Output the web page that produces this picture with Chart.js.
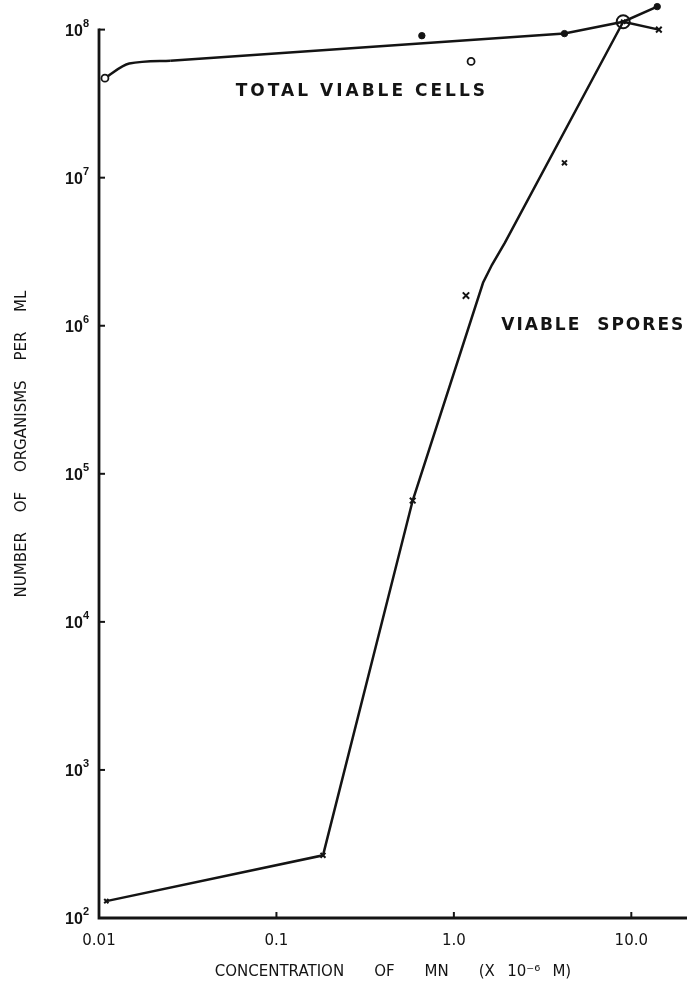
<!DOCTYPE html>
<html>
<head>
<meta charset="utf-8">
<script src="https://cdn.jsdelivr.net/npm/chart.js@4.4.1/dist/chart.umd.min.js"></script>
<style>
  html, body { margin: 0; padding: 0; background: #fff; }
  #wrap { width: 687px; height: 990px; position: relative; }
</style>
</head>
<body>
<div id="wrap"><canvas id="c" width="687" height="990"></canvas></div>
<script>
// Axis ticks
const xTicks = [0.01, 0.1, 1, 10];
const xTickLabels = ['0.01', '0.1', '1.0', '10.0'];
const yTicks = [1e2, 1e3, 1e4, 1e5, 1e6, 1e7, 1e8];
const yTickBase = '10';
const yTickExp = ['2', '3', '4', '5', '6', '7', '8'];

// Total viable cells (organisms per ml) vs Mn concentration (x 10^-6 M)
const cellsOpenX = [0.0108, 1.25];
const cellsOpenY = [4.7e7, 6.1e7];
const cellsSolidX = [0.66, 4.2, 14];
const cellsSolidY = [9.1e7, 9.4e7, 1.43e8];
const sharedX = [9.0];
const sharedY = [1.13e8];

// Drawn curve through the total viable cells
const cellsBendX = [0.0108, 0.0148, 0.0252];
const cellsBendY = [4.7e7, 5.9e7, 6.17e7];
const cellsLineX = [0.0252, 4.2, 9.0, 14];
const cellsLineY = [6.17e7, 9.4e7, 1.13e8, 1.43e8];

// Viable spores
const sporesX = [0.011, 0.183, 0.586, 1.17, 4.2, 9.0, 14.3];
const sporesY = [130, 265, 6.6e4, 1.6e6, 1.26e7, 1.13e8, 1.0e8];
const sporesSize = [3, 3.5, 4, 4.5, 3.5, 3, 4];

// Drawn curve through the viable spores
const sporesLineX = [0.011, 0.183, 0.586, 1.46, 1.64, 1.94, 9.0];
const sporesLineY = [130, 265, 6.6e4, 1.95e6, 2.58e6, 3.64e6, 1.13e8];
const sporesTailX = [9.0, 14.3];
const sporesTailY = [1.13e8, 1.0e8];

// Curve labels, anchored in data units
const labelText = ['TOTAL VIABLE CELLS', 'VIABLE  SPORES'];
const labelX = [0.059, 1.85];
const labelY = [3.8e7, 1.0e6];
const labelSpacing = ['3px', '2px'];

const pts = (xs, ys) => xs.map((x, i) => ({ x: x, y: ys[i] }));
const INK = '#141414';

const lineSet = (xs, ys, smooth) => ({
  data: pts(xs, ys),
  showLine: true,
  borderColor: INK,
  borderWidth: 2.5,
  pointRadius: 0,
  cubicInterpolationMode: smooth ? 'monotone' : 'default',
  tension: 0,
  clip: false
});

const frame = {
  id: 'frame',
  afterDatasetsDraw(chart) {
    const { ctx, scales: { x, y } } = chart;
    ctx.save();
    ctx.strokeStyle = INK;
    ctx.fillStyle = INK;
    const x0 = x.getPixelForValue(xTicks[0]);
    const yTop = y.getPixelForValue(yTicks[yTicks.length - 1]);
    const yBot = y.getPixelForValue(yTicks[0]);
    // axis lines
    ctx.lineWidth = 2.8;
    ctx.beginPath();
    ctx.moveTo(x0, yTop - 1);
    ctx.lineTo(x0, yBot);
    ctx.lineTo(x.right, yBot);
    ctx.stroke();
    // inward tick marks
    ctx.lineWidth = 2;
    yTicks.forEach(v => {
      const p = y.getPixelForValue(v);
      ctx.beginPath(); ctx.moveTo(x0, p); ctx.lineTo(x0 + 6, p); ctx.stroke();
    });
    xTicks.slice(1).forEach(v => {
      const p = x.getPixelForValue(v);
      ctx.beginPath(); ctx.moveTo(p, yBot); ctx.lineTo(p, yBot - 6); ctx.stroke();
    });
    // y tick labels: 10 with raised exponent
    const right = x0 - 10;
    yTicks.forEach((v, i) => {
      const p = y.getPixelForValue(v);
      ctx.font = 'bold 11px "Liberation Sans"';
      const ew = ctx.measureText(yTickExp[i]).width;
      ctx.textAlign = 'left';
      ctx.textBaseline = 'alphabetic';
      ctx.fillText(yTickExp[i], right - ew, p - 3);
      ctx.font = 'bold 16px "Liberation Sans"';
      ctx.textAlign = 'right';
      ctx.fillText(yTickBase, right - ew, p + 6);
    });
    // curve labels
    ctx.font = 'bold 17px "DejaVu Sans"';
    ctx.textAlign = 'left';
    ctx.textBaseline = 'middle';
    labelText.forEach((t, i) => {
      ctx.letterSpacing = labelSpacing[i];
      ctx.fillText(t, x.getPixelForValue(labelX[i]), y.getPixelForValue(labelY[i]));
    });
    ctx.restore();
  }
};

new Chart(document.getElementById('c'), {
  type: 'scatter',
  data: {
    datasets: [
      { // spores markers
        data: pts(sporesX, sporesY),
        pointStyle: 'crossRot',
        pointRadius: sporesSize,
        borderColor: INK,
        pointBorderWidth: 2,
        clip: false
      },
      { // circled shared point
        data: pts(sharedX, sharedY),
        pointStyle: 'circle',
        pointRadius: 6.5,
        pointBackgroundColor: 'rgba(0,0,0,0)',
        borderColor: INK,
        pointBorderWidth: 2,
        clip: false
      },
      { // open circles
        data: pts(cellsOpenX, cellsOpenY),
        pointStyle: 'circle',
        pointRadius: 3.5,
        pointBackgroundColor: '#fff',
        borderColor: INK,
        pointBorderWidth: 1.8,
        clip: false
      },
      { // solid dots
        data: pts(cellsSolidX, cellsSolidY),
        pointStyle: 'circle',
        pointRadius: 3.2,
        pointBackgroundColor: INK,
        borderColor: INK,
        pointBorderWidth: 1,
        clip: false
      },
      lineSet(cellsBendX, cellsBendY, true),
      lineSet(cellsLineX, cellsLineY, false),
      lineSet(sporesLineX, sporesLineY, false),
      lineSet(sporesTailX, sporesTailY, false)
    ]
  },
  options: {
    responsive: false,
    animation: false,
    events: [],
    layout: { padding: 0, autoPadding: false },
    plugins: { legend: { display: false }, tooltip: { enabled: false } },
    scales: {
      x: {
        type: 'logarithmic',
        min: 0.01,
        max: 20.6,
        afterBuildTicks: s => { s.ticks = xTicks.map(v => ({ value: v })); },
        afterFit: s => { s.height = 72; },
        grid: { display: false, drawTicks: false },
        border: { display: false },
        ticks: {
          autoSkip: false,
          maxRotation: 0,
          padding: 14,
          color: INK,
          font: { family: '"DejaVu Sans"', size: 15 },
          callback: v => xTickLabels[xTicks.indexOf(v)]
        },
        title: {
          display: true,
          text: 'CONCENTRATION\u2003\u2003OF\u2003\u2003MN\u2003\u2003(X\u2002 10\u207B\u2076\u2002 M)',
          color: INK,
          font: { family: '"DejaVu Sans"', size: 15 },
          padding: { top: 0, bottom: 9 }
        }
      },
      y: {
        type: 'logarithmic',
        min: 100,
        max: Math.pow(10, 8.2),
        afterBuildTicks: s => { s.ticks = yTicks.map(v => ({ value: v })); },
        afterFit: s => { s.width = 99; },
        grid: { display: false, drawTicks: false },
        border: { display: false },
        ticks: { display: false },
        title: {
          display: true,
          text: '\u2003\u2003NUMBER\u2003 OF\u2003 ORGANISMS\u2003 PER\u2003 ML',
          color: INK,
          font: { family: '"DejaVu Sans"', size: 15 },
          padding: { top: 13, bottom: 0 }
        }
      }
    }
  },
  plugins: [frame]
});
</script>
</body>
</html>
